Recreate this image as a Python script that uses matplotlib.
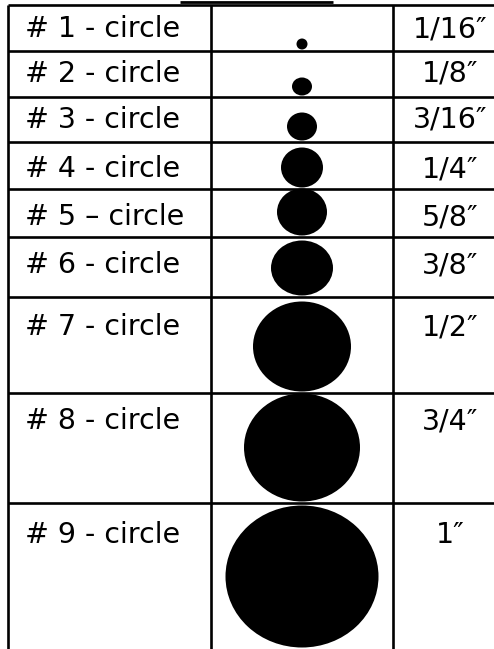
import matplotlib.pyplot as plt
from matplotlib.patches import Ellipse

# table contents
labels = ['# 1 - circle', '# 2 - circle', '# 3 - circle', '# 4 - circle',
          '# 5 \u2013 circle', '# 6 - circle', '# 7 - circle', '# 8 - circle',
          '# 9 - circle']
sizes = ['1/16\u2033', '1/8\u2033', '3/16\u2033', '1/4\u2033', '5/8\u2033',
         '3/8\u2033', '1/2\u2033', '3/4\u2033', '1\u2033']
# drawn dot sizes (pixels)
dot_w = [11, 20, 30, 42, 50, 62, 98, 116, 153]
dot_h = [11, 18, 28, 40, 47, 55, 90, 108, 142]

# layout (pixels)
row_edges = [5, 51, 97, 142, 189, 237, 297, 393, 503, 649]
text_base = [32, 31, 31, 35, 36, 36, 38, 36, 40]
col_x = [8, 211, 393]
W, H = 494, 649

fig = plt.figure(figsize=(W / 100, H / 100), dpi=100)
ax = fig.add_axes([0, 0, 1, 1])
ax.set_xlim(0, W)
ax.set_ylim(H, 0)
ax.axis('off')

lw = 1.9
# horizontal rules (no bottom rule under the last row)
for y in row_edges[:-1]:
    ax.plot([col_x[0], W], [y, y], color='black', lw=lw, solid_capstyle='butt')
# vertical rules
for x in col_x:
    ax.plot([x, x], [row_edges[0], H], color='black', lw=lw, solid_capstyle='butt')

# underline of the cut-off title
ax.plot([180, 333], [1.5, 1.5], color='black', lw=2, solid_capstyle='butt')

mid = (col_x[1] + col_x[2]) / 2
for i in range(len(labels)):
    top = row_edges[i]
    bot = row_edges[i + 1]
    ax.text(25, top + text_base[i], labels[i], fontsize=20.5, family='DejaVu Sans',
            ha='left', va='baseline', color='black')
    ax.text(450, top + text_base[i], sizes[i], fontsize=20.5, family='DejaVu Sans',
            ha='center', va='baseline', color='black')
    cy = min(bot, H) - dot_h[i] / 2 - 1.5
    ax.add_patch(Ellipse((mid, cy), dot_w[i], dot_h[i], color='black', lw=0))

fig.savefig('out.png', dpi=100)
